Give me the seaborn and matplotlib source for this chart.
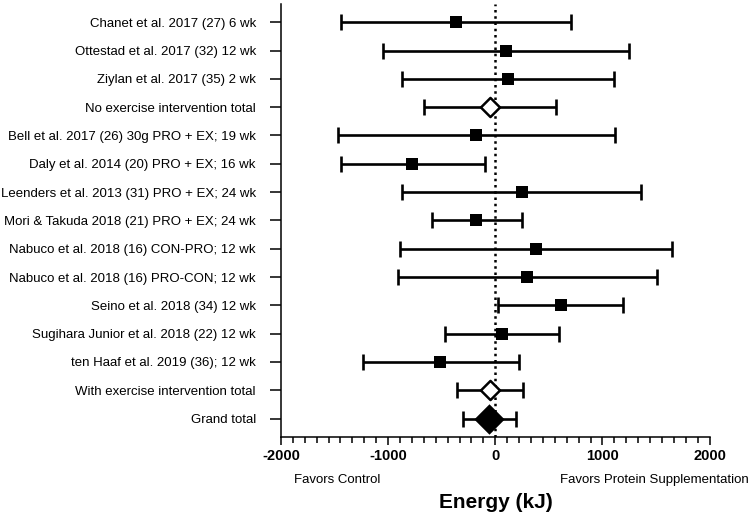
import pandas as pd
import seaborn as sns
import matplotlib.pyplot as plt
from matplotlib.ticker import AutoMinorLocator

# Study labels, top to bottom
studies = [
    "Chanet et al. 2017 (27) 6 wk",
    "Ottestad et al. 2017 (32) 12 wk",
    "Ziylan et al. 2017 (35) 2 wk",
    "No exercise intervention total",
    "Bell et al. 2017 (26) 30g PRO + EX; 19 wk",
    "Daly et al. 2014 (20) PRO + EX; 16 wk",
    "Leenders et al. 2013 (31) PRO + EX; 24 wk",
    "Mori & Takuda 2018 (21) PRO + EX; 24 wk",
    "Nabuco et al. 2018 (16) CON-PRO; 12 wk",
    "Nabuco et al. 2018 (16) PRO-CON; 12 wk",
    "Seino et al. 2018 (34) 12 wk",
    "Sugihara Junior et al. 2018 (22) 12 wk",
    "ten Haaf et al. 2019 (36); 12 wk",
    "With exercise intervention total",
    "Grand total",
]
# Mean difference and 95% CI (kJ)
effect = [-369, 97, 118, -49, -177, -774, 246, -177, 379, 298, 609, 62, -513, -49, -59]
ci_low = [-1438, -1044, -872, -662, -1469, -1441, -872, -593, -891, -910, 28, -472, -1236, -357, -301]
ci_high = [703, 1243, 1109, 566, 1118, -99, 1358, 246, 1653, 1507, 1190, 597, 218, 261, 193]
kind = ["study"] * 3 + ["subtotal"] + ["study"] * 9 + ["subtotal", "total"]

df = pd.DataFrame({"study": studies, "effect": effect, "low": ci_low,
                   "high": ci_high, "kind": kind})
df["row"] = range(len(df))

sns.set_style("ticks", {"axes.edgecolor": "black", "text.color": "black",
                        "xtick.color": "black", "ytick.color": "black"})
plt.rcParams["font.family"] = ["Liberation Sans", "DejaVu Sans"]
plt.rcParams["axes.unicode_minus"] = False

fig = plt.figure(figsize=(7.51, 5.15), dpi=100)
ax = fig.add_axes([0.374, 0.1515, 0.571, 0.841])

# zero line
ax.axvline(0, color="black", linestyle=(0, (1, 1.5)), linewidth=1.8, zorder=1)

# confidence intervals
ax.errorbar(df["effect"], df["row"],
            xerr=[df["effect"] - df["low"], df["high"] - df["effect"]],
            fmt="none", ecolor="black", elinewidth=1.9, capsize=5.5,
            capthick=1.9, zorder=2)

# point estimates
sns.scatterplot(data=df[df["kind"] == "study"], x="effect", y="row", marker="s",
                s=70, color="black", edgecolor="black", linewidth=0, ax=ax, zorder=3)
sns.scatterplot(data=df[df["kind"] == "subtotal"], x="effect", y="row", marker="D",
                s=95, facecolor="white", edgecolor="black", linewidth=1.8, ax=ax, zorder=3)
sns.scatterplot(data=df[df["kind"] == "total"], x="effect", y="row", marker="D",
                s=240, color="black", edgecolor="black", linewidth=0, ax=ax, zorder=3)

ax.set_xlim(-2000, 2000)
ax.set_ylim(14.65, -0.65)
ax.set_xticks([-2000, -1000, 0, 1000, 2000])
ax.xaxis.set_minor_locator(AutoMinorLocator(9))
ax.set_yticks(df["row"])
ax.set_yticklabels(df["study"], fontsize=9.5)
for lab in ax.get_xticklabels():
    lab.set_fontweight("bold")
    lab.set_fontsize(10.5)

ax.tick_params(axis="y", length=8, width=1.1, pad=10)
ax.tick_params(axis="x", which="major", length=6, width=1.1, pad=3)
ax.tick_params(axis="x", which="minor", length=4, width=1.1)
for side in ["left", "bottom"]:
    ax.spines[side].set_linewidth(1.1)
sns.despine(ax=ax)

ax.set_xlabel("")
ax.set_ylabel("")

fig.text(0.392, 0.068, "Favors Control", fontsize=9.5, ha="left", va="center")
fig.text(0.997, 0.068, "Favors Protein Supplementation", fontsize=9.5,
         ha="right", va="center")
fig.text(0.66, 0.025, "Energy (kJ)", fontsize=15, fontweight="bold",
         ha="center", va="center")

fig.savefig("out.png", dpi=100)
